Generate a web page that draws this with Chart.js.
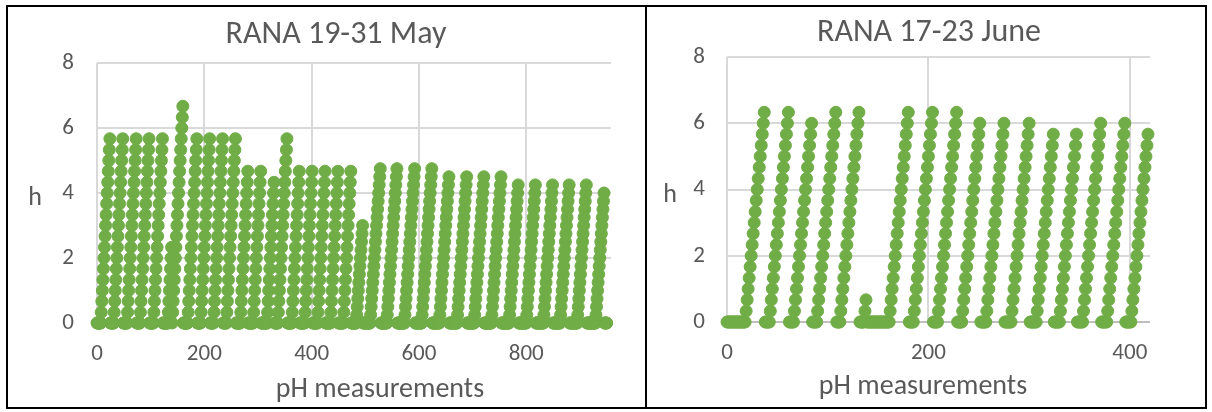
<!DOCTYPE html>
<html>
<head>
<meta charset="utf-8">
<script src="https://cdn.jsdelivr.net/npm/chart.js@4.4.1/dist/chart.umd.min.js"></script>
<style>
  html, body { margin: 0; padding: 0; background: #fff; }
  body { width: 1212px; height: 412px; position: relative; overflow: hidden; }
  .frame { position: absolute; left: 6px; top: 5px; width: 1197px; height: 400px; border: 2px solid #000; }
  .divider { position: absolute; left: 645px; top: 5px; width: 2px; height: 404px; background: #000; }
  canvas { position: absolute; }
  #may { left: 8px; top: 7px; }
  #june { left: 647px; top: 7px; }
</style>
</head>
<body>
<div class="frame"></div>
<div class="divider"></div>
<canvas id="may" width="637" height="400"></canvas>
<canvas id="june" width="558" height="400"></canvas>
<script>
// Panel titles and axis titles
const mayTitle = 'RANA 19-31 May';
const juneTitle = 'RANA 17-23 June';
const xTitle = 'pH measurements';
const yTitle = 'h';

// Tick labels
const mayXTicks = [0, 200, 400, 600, 800];
const juneXTicks = [0, 200, 400];
const hTicks = [0, 2, 4, 6, 8];

// h value of every pH measurement, 19-31 May (one line per filling cycle)
const mayHours = [
  0,0,0,0,0,0,0,0,0.33,0.67,1,1.33,1.67,2,2.33,2.67,3,3.33,3.67,4,4.33,4.67,5,5.33,5.67,
  0,0,0,0,0,0,0,0.33,0.67,1,1.33,1.67,2,2.33,2.67,3,3.33,3.67,4,4.33,4.67,5,5.33,5.67,
  0,0,0,0,0,0,0,0,0.33,0.67,1,1.33,1.67,2,2.33,2.67,3,3.33,3.67,4,4.33,4.67,5,5.33,5.67,
  0,0,0,0,0,0,0,0.33,0.67,1,1.33,1.67,2,2.33,2.67,3,3.33,3.67,4,4.33,4.67,5,5.33,5.67,
  0,0,0,0,0,0,0,0,0.33,0.67,1,1.33,1.67,2,2.33,2.67,3,3.33,3.67,4,4.33,4.67,5,5.33,5.67,
  0,0,0,0,0,0,0,0,0,0,0.33,0.67,1,1.33,1.67,2,2.33,
  0,0.33,0.67,1,1.33,1.67,2,2.33,2.67,3,3.33,3.67,4,4.33,4.67,5,5.33,5.67,6,6.33,6.67,
  0,0,0,0,0,0,0,0,0,0.33,0.67,1,1.33,1.67,2,2.33,2.67,3,3.33,3.67,4,4.33,4.67,5,5.33,5.67,
  0,0,0,0,0,0,0,0.33,0.67,1,1.33,1.67,2,2.33,2.67,3,3.33,3.67,4,4.33,4.67,5,5.33,5.67,
  0,0,0,0,0,0,0,0.33,0.67,1,1.33,1.67,2,2.33,2.67,3,3.33,3.67,4,4.33,4.67,5,5.33,5.67,
  0,0,0,0,0,0,0,0.33,0.67,1,1.33,1.67,2,2.33,2.67,3,3.33,3.67,4,4.33,4.67,5,5.33,5.67,
  0,0,0,0,0,0,0,0,0,0.33,0.67,1,1.33,1.67,2,2.33,2.67,3,3.33,3.67,4,4.33,4.67,
  0,0,0,0,0,0,0,0,0,0,0.33,0.67,1,1.33,1.67,2,2.33,2.67,3,3.33,3.67,4,4.33,4.67,
  0,0,0,0,0,0,0,0,0,0,0,0,0.33,0.67,1,1.33,1.67,2,2.33,2.67,3,3.33,3.67,4,4.33,
  0,0,0,0,0,0,0,0.33,0.67,1,1.33,1.67,2,2.33,2.67,3,3.33,3.67,4,4.33,4.67,5,5.33,5.67,
  0,0,0,0,0,0,0,0,0,0.33,0.67,1,1.33,1.67,2,2.33,2.67,3,3.33,3.67,4,4.33,4.67,
  0,0,0,0,0,0,0,0,0,0,0.33,0.67,1,1.33,1.67,2,2.33,2.67,3,3.33,3.67,4,4.33,4.67,
  0,0,0,0,0,0,0,0,0,0,0.33,0.67,1,1.33,1.67,2,2.33,2.67,3,3.33,3.67,4,4.33,4.67,
  0,0,0,0,0,0,0,0,0,0,0.33,0.67,1,1.33,1.67,2,2.33,2.67,3,3.33,3.67,4,4.33,4.67,
  0,0,0,0,0,0,0,0,0,0,0.33,0.67,1,1.33,1.67,2,2.33,2.67,3,3.33,3.67,4,4.33,4.67,
  0,0,0,0,0,0,0,0,0,0,0.25,0.5,0.75,1,1.25,1.5,1.75,2,2.25,2.5,2.75,3,
  0,0,0,0,0,0,0,0,0,0,0,0,0,0,0.25,0.5,0.75,1,1.25,1.5,1.75,2,2.25,2.5,2.75,3,3.25,3.5,3.75,4,4.25,4.5,4.75,
  0,0,0,0,0,0,0,0,0,0,0,0,0.25,0.5,0.75,1,1.25,1.5,1.75,2,2.25,2.5,2.75,3,3.25,3.5,3.75,4,4.25,4.5,4.75,
  0,0,0,0,0,0,0,0,0,0,0,0,0,0,0.25,0.5,0.75,1,1.25,1.5,1.75,2,2.25,2.5,2.75,3,3.25,3.5,3.75,4,4.25,4.5,4.75,
  0,0,0,0,0,0,0,0,0,0,0,0,0,0.25,0.5,0.75,1,1.25,1.5,1.75,2,2.25,2.5,2.75,3,3.25,3.5,3.75,4,4.25,4.5,4.75,
  0,0,0,0,0,0,0,0,0,0,0,0,0,0,0.25,0.5,0.75,1,1.25,1.5,1.75,2,2.25,2.5,2.75,3,3.25,3.5,3.75,4,4.25,4.5,
  0,0,0,0,0,0,0,0,0,0,0,0,0,0,0,0.25,0.5,0.75,1,1.25,1.5,1.75,2,2.25,2.5,2.75,3,3.25,3.5,3.75,4,4.25,4.5,
  0,0,0,0,0,0,0,0,0,0,0,0,0,0,0.25,0.5,0.75,1,1.25,1.5,1.75,2,2.25,2.5,2.75,3,3.25,3.5,3.75,4,4.25,4.5,
  0,0,0,0,0,0,0,0,0,0,0,0,0,0,0.25,0.5,0.75,1,1.25,1.5,1.75,2,2.25,2.5,2.75,3,3.25,3.5,3.75,4,4.25,4.5,
  0,0,0,0,0,0,0,0,0,0,0,0,0,0,0,0.25,0.5,0.75,1,1.25,1.5,1.75,2,2.25,2.5,2.75,3,3.25,3.5,3.75,4,4.25,
  0,0,0,0,0,0,0,0,0,0,0,0,0,0,0,0.25,0.5,0.75,1,1.25,1.5,1.75,2,2.25,2.5,2.75,3,3.25,3.5,3.75,4,4.25,
  0,0,0,0,0,0,0,0,0,0,0,0,0,0,0,0.25,0.5,0.75,1,1.25,1.5,1.75,2,2.25,2.5,2.75,3,3.25,3.5,3.75,4,4.25,
  0,0,0,0,0,0,0,0,0,0,0,0,0,0,0.25,0.5,0.75,1,1.25,1.5,1.75,2,2.25,2.5,2.75,3,3.25,3.5,3.75,4,4.25,
  0,0,0,0,0,0,0,0,0,0,0,0,0,0,0,0.25,0.5,0.75,1,1.25,1.5,1.75,2,2.25,2.5,2.75,3,3.25,3.5,3.75,4,4.25,
  0,0,0,0,0,0,0,0,0,0,0,0,0,0,0,0,0,0.25,0.5,0.75,1,1.25,1.5,1.75,2,2.25,2.5,2.75,3,3.25,3.5,3.75,4,
  0,0,0,0,0
];

// h value of every pH measurement, 17-23 June (one line per filling cycle)
const juneHours = [
  0,0,0,0,0,0,0,0,0,0,0,0,0,0,0,0,0,0,0,0.33,0.67,1,1.33,1.67,2,2.33,2.67,3,3.33,3.67,4,4.33,4.67,5,5.33,5.67,6,6.33,
  0,0,0,0,0,0.33,0.67,1,1.33,1.67,2,2.33,2.67,3,3.33,3.67,4,4.33,4.67,5,5.33,5.67,6,6.33,
  0,0,0,0,0,0.33,0.67,1,1.33,1.67,2,2.33,2.67,3,3.33,3.67,4,4.33,4.67,5,5.33,5.67,6,
  0,0,0,0,0,0.33,0.67,1,1.33,1.67,2,2.33,2.67,3,3.33,3.67,4,4.33,4.67,5,5.33,5.67,6,6.33,
  0,0,0,0,0.33,0.67,1,1.33,1.67,2,2.33,2.67,3,3.33,3.67,4,4.33,4.67,5,5.33,5.67,6,6.33,
  0,0,0,0,0,0.33,0.67,
  0,0,0,0,0,0,0,0,0,0,0,0,0,0,0,0,0,0,0,0,0,0,0,0.33,0.67,1,1.33,1.67,2,2.33,2.67,3,3.33,3.67,4,4.33,4.67,5,5.33,5.67,6,6.33,
  0,0,0,0,0,0.33,0.67,1,1.33,1.67,2,2.33,2.67,3,3.33,3.67,4,4.33,4.67,5,5.33,5.67,6,6.33,
  0,0,0,0,0,0.33,0.67,1,1.33,1.67,2,2.33,2.67,3,3.33,3.67,4,4.33,4.67,5,5.33,5.67,6,6.33,
  0,0,0,0,0,0.33,0.67,1,1.33,1.67,2,2.33,2.67,3,3.33,3.67,4,4.33,4.67,5,5.33,5.67,6,
  0,0,0,0,0,0,0.33,0.67,1,1.33,1.67,2,2.33,2.67,3,3.33,3.67,4,4.33,4.67,5,5.33,5.67,6,
  0,0,0,0,0,0,0,0.33,0.67,1,1.33,1.67,2,2.33,2.67,3,3.33,3.67,4,4.33,4.67,5,5.33,5.67,6,
  0,0,0,0,0,0,0,0.33,0.67,1,1.33,1.67,2,2.33,2.67,3,3.33,3.67,4,4.33,4.67,5,5.33,5.67,
  0,0,0,0,0,0,0.33,0.67,1,1.33,1.67,2,2.33,2.67,3,3.33,3.67,4,4.33,4.67,5,5.33,5.67,
  0,0,0,0,0,0,0.33,0.67,1,1.33,1.67,2,2.33,2.67,3,3.33,3.67,4,4.33,4.67,5,5.33,5.67,6,
  0,0,0,0,0,0,0.33,0.67,1,1.33,1.67,2,2.33,2.67,3,3.33,3.67,4,4.33,4.67,5,5.33,5.67,6,
  0,0,0,0,0,0,0.33,0.67,1,1.33,1.67,2,2.33,2.67,3,3.33,3.67,4,4.33,4.67,5,5.33,5.67
];

const FONT = 'Carlito, Calibri, Lato, sans-serif';
const GREEN = '#70AD47';
const TEXT = '#595959';
const GRID = '#D9D9D9';
const AXIS = '#BFBFBF';

// Chart title, upright "h" beside the value axis, and the category axis title
const panelText = {
  id: 'panelText',
  afterDraw(chart, args, o) {
    const c = chart.ctx;
    c.save();
    c.fillStyle = TEXT;
    c.textAlign = 'center';
    c.textBaseline = 'alphabetic';
    c.font = o.titleSize + 'px ' + FONT;
    c.fillText(o.title, o.titleX, o.titleY);
    c.font = o.hSize + 'px ' + FONT;
    c.fillText(yTitle, o.hX, o.hY);
    c.font = o.xSize + 'px ' + FONT;
    c.fillText(xTitle, o.xX, o.xY);
    c.restore();
  }
};

function drawPanel(id, title, hours, xTicks, xMax, g) {
  const points = hours.map((h, i) => ({ x: i, y: h }));
  return new Chart(document.getElementById(id), {
    type: 'scatter',
    data: {
      datasets: [{
        label: title,
        data: points,
        showLine: false,
        pointRadius: 6,
        pointHoverRadius: 6,
        pointBorderWidth: 1,
        pointBackgroundColor: GREEN,
        pointBorderColor: GREEN,
        clip: false
      }]
    },
    options: {
      responsive: false,
      animation: false,
      devicePixelRatio: 1,
      events: [],
      layout: { padding: { left: g.padL, right: g.padR, top: g.padT, bottom: 0 } },
      plugins: {
        legend: { display: false },
        tooltip: { enabled: false },
        title: { display: false },
        panelText: {
          title: title, titleX: g.titleX, titleY: g.titleY, titleSize: 32,
          hX: g.hX, hY: g.hY, hSize: 26,
          xX: g.xX, xY: g.xY, xSize: 28
        }
      },
      scales: {
        x: {
          type: 'linear',
          min: 0,
          max: xMax,
          afterBuildTicks: s => { s.ticks = xTicks.map(v => ({ value: v })); },
          afterFit: s => { s.height = g.xH; },
          grid: { color: GRID, lineWidth: 2, drawTicks: false },
          border: { display: false },
          ticks: { color: TEXT, font: { family: FONT, size: 23 }, padding: 17, maxRotation: 0, autoSkip: false }
        },
        y: {
          min: 0,
          max: 8,
          afterBuildTicks: s => { s.ticks = hTicks.map(v => ({ value: v })); },
          afterFit: s => { s.width = g.yW; },
          grid: {
            color: ctx => (ctx.tick && ctx.tick.value === 0 ? AXIS : GRID),
            lineWidth: 2,
            drawTicks: false
          },
          border: { display: false },
          ticks: { color: TEXT, font: { family: FONT, size: 23 }, padding: g.yPad, autoSkip: false }
        }
      }
    },
    plugins: [panelText]
  });
}

drawPanel('may', mayTitle, mayHours, mayXTicks, 958, {
  padL: 20, padR: 34, padT: 56, yW: 69, xH: 84, yPad: 23,
  titleX: 328, titleY: 36, hX: 27, hY: 198, xX: 372, xY: 390
});

drawPanel('june', juneTitle, juneHours, juneXTicks, 420, {
  padL: 20, padR: 55, padT: 50, yW: 60, xH: 85, yPad: 22,
  titleX: 282, titleY: 34, hX: 23, hY: 195, xX: 276, xY: 387
});
</script>
</body>
</html>
